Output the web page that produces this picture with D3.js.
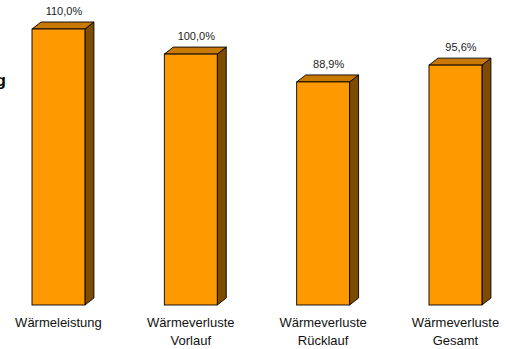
<!DOCTYPE html>
<html>
<head>
<meta charset="utf-8">
<script src="https://cdn.jsdelivr.net/npm/d3@7"></script>
<style>
  html, body { margin: 0; padding: 0; background: #fff; }
  svg { display: block; }
</style>
</head>
<body>
<svg id="chart" width="506" height="349"></svg>
<script>
// Categories (two-line axis labels) and values in percent
const categories = ["Wärmeleistung", "Wärmeverluste Vorlauf", "Wärmeverluste Rücklauf", "Wärmeverluste Gesamt"];
const categoryLines = [["Wärmeleistung"], ["Wärmeverluste", "Vorlauf"], ["Wärmeverluste", "Rücklauf"], ["Wärmeverluste", "Gesamt"]];
const values = [110.0, 100.0, 88.9, 95.6];
const valueLabels = ["110,0%", "100,0%", "88,9%", "95,6%"];

const svg = d3.select("#chart");
const font = "Arial, 'Liberation Sans', sans-serif";

const step = 132.33;
const x = d3.scaleBand()
  .domain(categories)
  .range([32 - 0.3 * step, 32 + 3.7 * step])
  .paddingInner(0.6)
  .paddingOuter(0.3);

const y = d3.scaleLinear().domain([0, 110]).range([305, 29]);

// 3D extrusion offsets
const dx = 9, dy = 7;

const colFront = "#FF9900", colTop = "#C97800", colSide = "#7E4B00";

// Title fragment at the left edge
svg.append("text")
  .attr("x", -4.5)
  .attr("y", 86)
  .attr("font-family", font)
  .attr("font-weight", "bold")
  .attr("font-size", 17)
  .attr("fill", "#000")
  .text("g");

const bars = svg.append("g").selectAll("g")
  .data(categories.map((c, i) => ({ c, v: values[i], label: valueLabels[i], lines: categoryLines[i] })))
  .join("g");

bars.each(function(d) {
  const g = d3.select(this);
  const x0 = x(d.c), w = x.bandwidth();
  const yt = y(d.v), yb = y(0);
  // side face
  g.append("path")
    .attr("d", `M${x0 + w},${yt} L${x0 + w + dx},${yt - dy} L${x0 + w + dx},${yb - dy} L${x0 + w},${yb} Z`)
    .attr("fill", colSide).attr("stroke", "#000").attr("stroke-width", 0.9).attr("stroke-linejoin", "round");
  // top face
  g.append("path")
    .attr("d", `M${x0},${yt} L${x0 + dx},${yt - dy} L${x0 + w + dx},${yt - dy} L${x0 + w},${yt} Z`)
    .attr("fill", colTop).attr("stroke", "#000").attr("stroke-width", 0.9).attr("stroke-linejoin", "round");
  // front face
  g.append("rect")
    .attr("x", x0).attr("y", yt).attr("width", w).attr("height", yb - yt)
    .attr("fill", colFront).attr("stroke", "#000").attr("stroke-width", 0.9);
  // value label
  g.append("text")
    .attr("x", x0 + w / 2 + 5.5)
    .attr("y", yt - dy - 7)
    .attr("text-anchor", "middle")
    .attr("font-family", font)
    .attr("font-size", 11)
    .attr("fill", "#222")
    .text(d.label);
  // category label
  const t = g.append("text")
    .attr("text-anchor", "middle")
    .attr("font-family", font)
    .attr("font-size", 13)
    .attr("fill", "#111");
  d.lines.forEach((ln, k) => {
    t.append("tspan").attr("x", x0 + w / 2).attr("y", 326.5 + k * 18.5).text(ln);
  });
});
</script>
</body>
</html>
